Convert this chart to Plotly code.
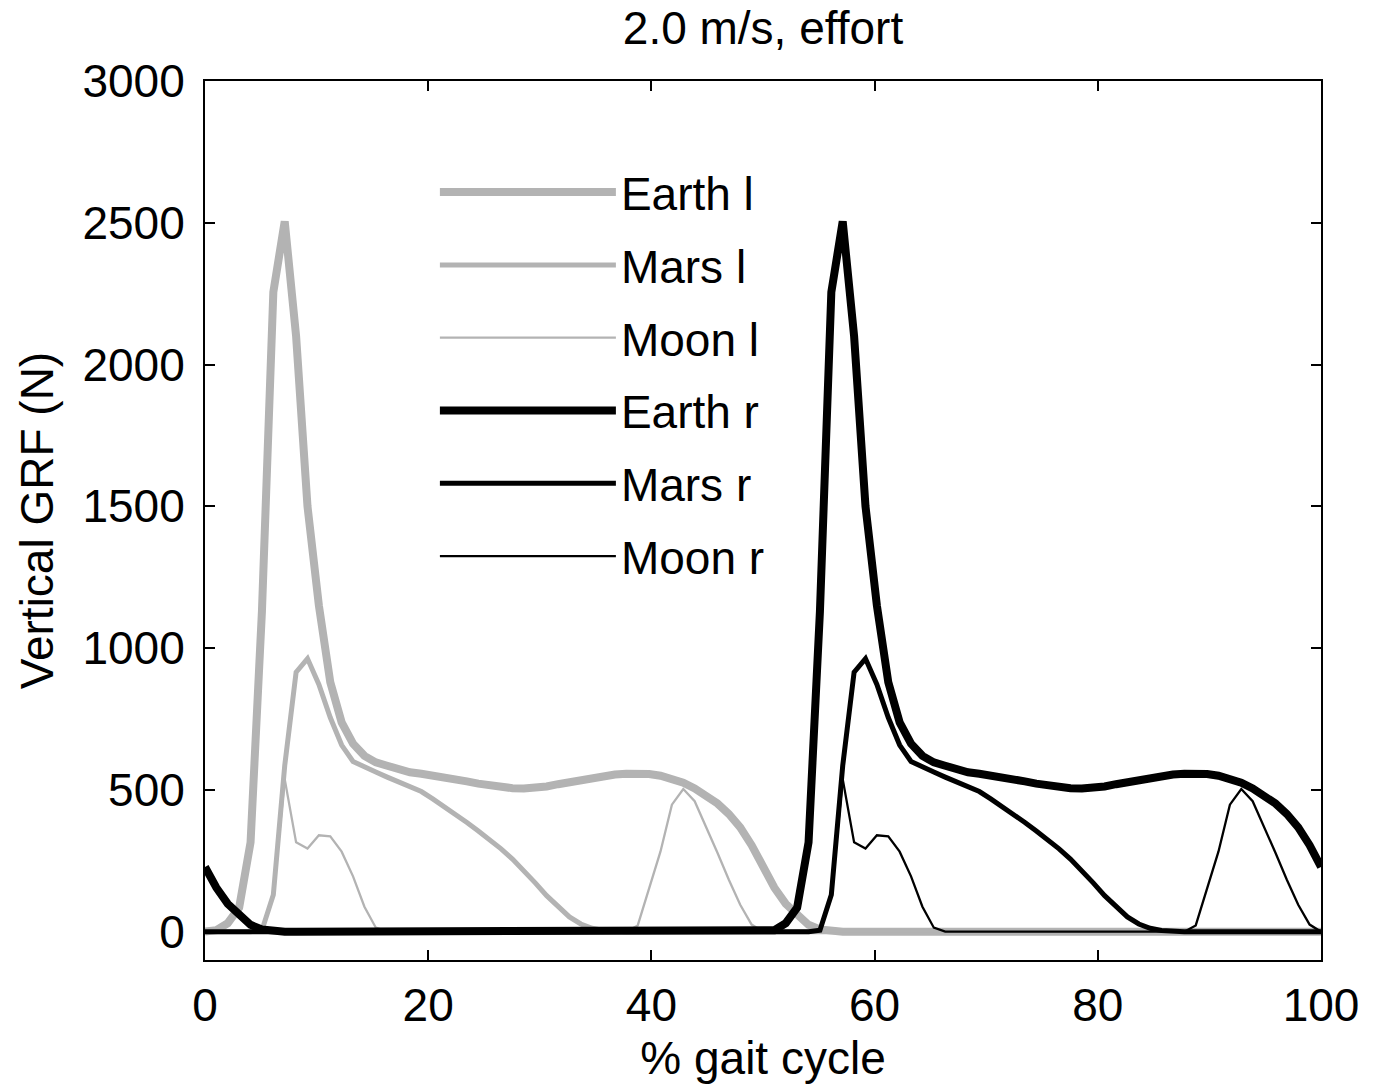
import plotly.graph_objects as go

# sample grid: 99 samples over the gait cycle (0..100 %)
gait_pct = [i * 100 / 98 for i in range(99)]

earth_l = [0, 5, 30, 85, 315, 1130, 2255, 2505, 2100, 1500, 1150, 880, 738, 663, 620,
           597, 585, 570, 562, 557, 552, 545, 538, 530, 522, 515, 510, 506, 505, 507,
           512, 520, 528, 536, 543, 549, 554, 557, 558, 556, 550, 540, 525, 505, 480,
           452, 415, 368, 305, 228, 155, 98, 56, 24, 8, 2] + [0] * 43
mars_l = [0, 0, 0, 0, 0, 5, 130, 585, 915, 963, 872, 755, 658, 600, 580, 563, 545, 528,
          512, 494, 468, 442, 414, 385, 355, 324, 292, 256, 216, 172, 127, 87, 52, 27,
          12, 4, 1] + [0] * 62
moon_l = [0, 0, 0, 0, 0, 3, 130, 538, 315, 293, 340, 336, 282, 195, 88, 14] + [0] * 22 + \
         [22, 150, 283, 448, 503, 460, 372, 278, 183, 95, 25] + [0] * 50

earth_r = [228, 155, 98, 56, 24, 8, 2] + [0] * 42 + \
          [0, 5, 30, 85, 315, 1130, 2255, 2505, 2100, 1500, 1150, 880, 738, 663, 620,
           597, 585, 570, 562, 557, 552, 545, 538, 530, 522, 515, 510, 506, 505, 507,
           512, 520, 528, 536, 543, 549, 554, 557, 558, 556, 550, 540, 525, 505, 480,
           452, 415, 368, 305] + [228]
mars_r = [0] * 49 + \
         [0, 0, 0, 0, 0, 5, 130, 585, 915, 963, 872, 755, 658, 600, 580, 563, 545, 528,
          512, 494, 468, 442, 414, 385, 355, 324, 292, 256, 216, 172, 127, 87, 52, 27,
          12, 4, 1] + [0] * 12 + [0]
moon_r = [0] * 49 + \
         [0, 0, 0, 0, 0, 3, 130, 538, 315, 293, 340, 336, 282, 195, 88, 14] + [0] * 22 + \
         [22, 150, 283, 448, 503, 460, 372, 278, 183, 95, 25] + [0]

series_names = ["Earth l", "Mars l", "Moon l", "Earth r", "Mars r", "Moon r"]
series_vals = [earth_l, mars_l, moon_l, earth_r, mars_r, moon_r]

x_ticks = [0, 20, 40, 60, 80, 100]
y_ticks = [0, 500, 1000, 1500, 2000, 2500, 3000]

GRAY = "#b3b3b3"
BLACK = "#000000"
styles = [(GRAY, 8), (GRAY, 5), (GRAY, 2.3), (BLACK, 8), (BLACK, 5), (BLACK, 2.3)]

FONT = "Liberation Sans, Arial, sans-serif"
FS = 46

fig = go.Figure()
for k, (name, vals) in enumerate(zip(series_names, series_vals)):
    col, w = styles[k]
    fig.add_trace(go.Scatter(
        x=gait_pct, y=vals, mode="lines", name=name,
        line=dict(color=col, width=w),
        legendgroup=name,
    ))

axis_common = dict(
    showline=True, linecolor="black", linewidth=2, mirror="ticks",
    ticks="inside", ticklen=10, tickwidth=2, tickcolor="black",
    showgrid=False, zeroline=False,
    tickfont=dict(family=FONT, size=FS, color="black"),
    title_font=dict(family=FONT, size=FS, color="black"),
)

fig.update_xaxes(range=[0, 100], tickvals=x_ticks, ticktext=[str(v) for v in x_ticks],
                 title_text="% gait cycle", title_standoff=12, ticklabelstandoff=4,
                 **axis_common)
fig.update_yaxes(range=[-100, 3000], tickvals=y_ticks, ticktext=[str(v) for v in y_ticks],
                 title_text="Vertical GRF (N)", title_standoff=14, ticklabelstandoff=9,
                 **axis_common)

fig.update_layout(
    width=1376, height=1091,
    margin=dict(l=205, r=55, t=81, b=131),
    paper_bgcolor="white", plot_bgcolor="white",
    title=dict(text="2.0 m/s, effort", xref="paper", x=0.5, xanchor="center",
               y=0.974, yanchor="middle",
               font=dict(family=FONT, size=FS, color="black")),
    showlegend=True,
    legend=dict(
        x=0.206, y=0.915, xanchor="left", yanchor="top",
        bgcolor="rgba(0,0,0,0)", borderwidth=0,
        font=dict(family=FONT, size=FS, color="black"),
        itemwidth=176, tracegroupgap=10,
    ),
)

fig.write_html("out.html")
